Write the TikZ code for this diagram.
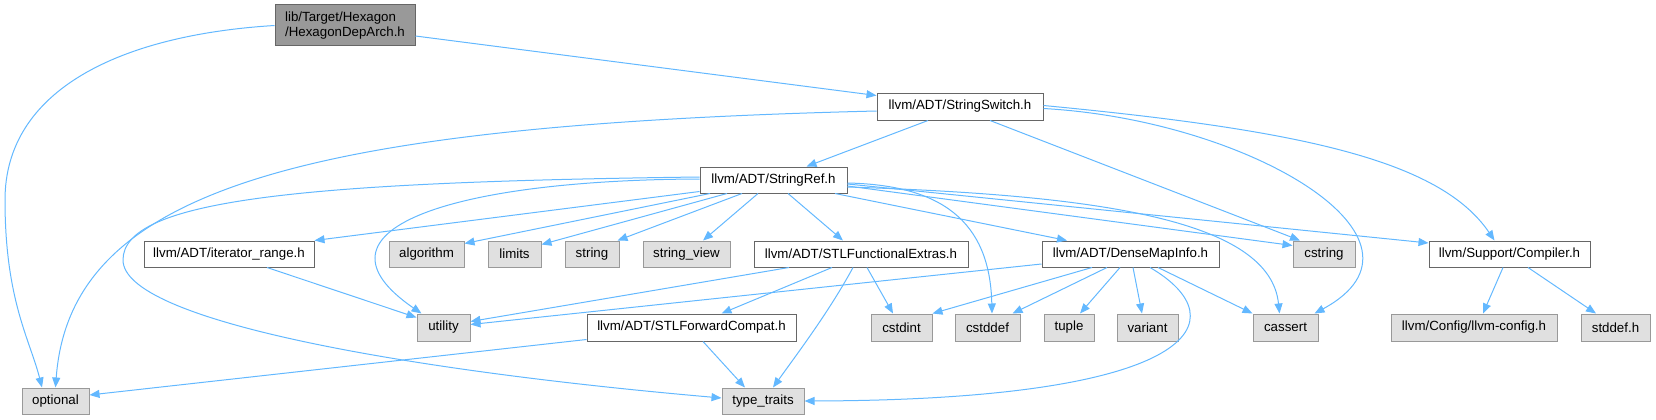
\documentclass[tikz,border=0pt]{standalone}
\usepackage{fontspec}
\setmainfont{Liberation Sans}
\usepackage{tikz}
\usetikzlibrary{positioning,arrows.meta,calc}
\usepackage{xcolor}
\definecolor{edgeblue}{HTML}{63B8FF}
\definecolor{boxgrey}{HTML}{666666}
\definecolor{extgrey}{HTML}{999999}
\definecolor{extfill}{HTML}{E0E0E0}
\definecolor{rootfill}{HTML}{999999}

\begin{document}
\begin{tikzpicture}[
    x=1pt, y=-1pt,
    fileStyle/.style={rectangle, draw=boxgrey, fill=white, line width=1pt, minimum height=26pt, inner sep=0pt, font=\fontsize{13.3}{15.5}\selectfont},
    extStyle/.style={fileStyle, draw=extgrey, fill=extfill},
    rootStyle/.style={fileStyle, fill=rootfill, align=left},
    incArrow/.style={-{Triangle[length=10pt,width=8pt]}, draw=edgeblue, line width=1pt}
]
    \useasboundingbox (0,0) rectangle (1656,420);

    % Root file
    \node[rootStyle, minimum width=140pt, minimum height=41pt] (root) at (345,25.5) {lib/Target/Hexagon\\/HexagonDepArch.h};

    % Direct includes
    \node[fileStyle, minimum width=166pt, minimum height=27pt] (ss) at (960,106.5) {llvm/ADT/StringSwitch.h};
    \node[fileStyle, minimum width=147pt] (sr) at (773.5,180) {llvm/ADT/StringRef.h};

    % Row under StringRef
    \node[fileStyle, minimum width=170pt] (itr) at (229,254) {llvm/ADT/iterator\_range.h};
    \node[extStyle, minimum width=75pt] (algorithm) at (426.5,254) {algorithm};
    \node[extStyle, minimum width=53pt] (limits) at (514.5,254) {limits};
    \node[extStyle, minimum width=54pt] (string) at (592,254) {string};
    \node[extStyle, minimum width=87pt] (strview) at (686.5,254) {string\_view};
    \node[fileStyle, minimum width=214pt] (sfe) at (861,254) {llvm/ADT/STLFunctionalExtras.h};
    \node[fileStyle, minimum width=177pt] (dmi) at (1130.5,254) {llvm/ADT/DenseMapInfo.h};
    \node[extStyle, minimum width=62pt] (cstring) at (1324,254) {cstring};
    \node[fileStyle, minimum width=161pt] (compiler) at (1509.5,254) {llvm/Support/Compiler.h};

    % Lower row
    \node[extStyle, minimum width=53pt, minimum height=27pt] (utility) at (443.5,327.5) {utility};
    \node[fileStyle, minimum width=209pt, minimum height=27pt] (sfc) at (691.5,327.5) {llvm/ADT/STLForwardCompat.h};
    \node[extStyle, minimum width=61pt, minimum height=27pt] (cstdint) at (901.5,327.5) {cstdint};
    \node[extStyle, minimum width=65pt, minimum height=27pt] (cstddef) at (987.5,327.5) {cstddef};
    \node[extStyle, minimum width=50pt, minimum height=27pt] (tuple) at (1069,327.5) {tuple};
    \node[extStyle, minimum width=61pt, minimum height=27pt] (variant) at (1147.5,327.5) {variant};
    \node[extStyle, minimum width=65pt, minimum height=27pt] (cassert) at (1285.5,327.5) {cassert};
    \node[extStyle, minimum width=166pt, minimum height=27pt] (llvmconfig) at (1474,327.5) {llvm/Config/llvm-config.h};
    \node[extStyle, minimum width=69pt, minimum height=27pt] (stddef) at (1615.5,327.5) {stddef.h};

    % Bottom row
    \node[extStyle, minimum width=67pt] (optional) at (55.5,401) {optional};
    \node[extStyle, minimum width=82pt] (typetraits) at (763,401) {type\_traits};

    % Root edges
    \draw[incArrow] (root.west) .. controls (120,35) and (5,90) .. (5,200) .. controls (5,300) and (30,340) .. ([xshift=-13.5pt]optional.north);
    \draw[incArrow] ([yshift=-10.5pt]root.east) -- ([yshift=-3pt]ss.north west);

    % StringSwitch edges
    \draw[incArrow] ([yshift=-4.5pt]ss.west) .. controls (300,125) and (70,190) .. (optional.north);
    \draw[incArrow] ([xshift=-32pt]ss.south) -- ([xshift=33pt]sr.north);
    \draw[incArrow] ([xshift=30pt]ss.south) -- ([xshift=-24pt]cstring.north);
    \draw[incArrow] ([yshift=-2pt]ss.east) .. controls (1250,120) and (1450,240) .. ([xshift=29pt]cassert.north);
    \draw[incArrow] ([yshift=1pt]ss.east) .. controls (1300,130) and (1440,160) .. ([xshift=-15pt]compiler.north);

    % StringRef edges
    \draw[incArrow] ([yshift=3pt]sr.west) .. controls (300,182) and (123,200) .. (123,260) .. controls (123,320) and (400,370) .. ([yshift=3pt]typetraits.west);
    \draw[incArrow] ([yshift=1pt]sr.west) .. controls (450,180) and (300,230) .. ([xshift=-22pt]utility.north);
    \draw[incArrow] ([yshift=2pt]sr.south west) -- (itr.north east);
    \draw[incArrow] ([xshift=-63.5pt]sr.south) -- ([yshift=-3pt]algorithm.north east);
    \draw[incArrow] ([xshift=-46.5pt]sr.south) -- ([yshift=-4pt]limits.north east);
    \draw[incArrow] ([xshift=-31.5pt]sr.south) -- ([xshift=-2pt]string.north east);
    \draw[incArrow] ([xshift=-15.5pt]sr.south) -- ([xshift=16.5pt]strview.north);
    \draw[incArrow] ([xshift=14.5pt]sr.south) -- ([xshift=-18pt]sfe.north);
    \draw[incArrow] ([xshift=61.5pt]sr.south) -- ([xshift=-63.5pt]dmi.north);
    \draw[incArrow] ([yshift=-3pt]sr.east) .. controls (940,185) and (990,220) .. ([xshift=4.5pt]cstddef.north);
    \draw[incArrow] ([yshift=-4pt]sr.east) -- ([yshift=11pt]compiler.west);
    \draw[incArrow] ([yshift=-6pt]sr.east) -- ([yshift=-5pt]cstring.north west);
    \draw[incArrow] ([yshift=-7pt]sr.east) .. controls (1100,195) and (1270,220) .. ([xshift=-6pt]cassert.north);

    % iterator_range
    \draw[incArrow] ([xshift=38pt]itr.south) -- ([yshift=-4pt]utility.north west);

    % STLFunctionalExtras edges
    \draw[incArrow] ([xshift=-72pt]sfe.south) -- ([yshift=6pt]utility.east);
    \draw[incArrow] ([xshift=-29pt]sfe.south) -- ([xshift=30pt]sfc.north);
    \draw[incArrow] ([xshift=-8pt]sfe.south) .. controls (830,310) and (800,350) .. ([xshift=10pt]typetraits.north);
    \draw[incArrow] ([xshift=6pt]sfe.south) -- ([xshift=-8.5pt]cstdint.north);

    % DenseMapInfo edges
    \draw[incArrow] ([yshift=-10pt]dmi.west) -- ([yshift=3pt]utility.east);
    \draw[incArrow] ([xshift=-38.5pt]dmi.south) -- (cstdint.north east);
    \draw[incArrow] ([xshift=-23.5pt]dmi.south) -- ([xshift=25pt]cstddef.north);
    \draw[incArrow] ([xshift=-10.5pt]dmi.south) -- ([xshift=11pt]tuple.north);
    \draw[incArrow] ([xshift=2.5pt]dmi.south) -- ([xshift=-5.5pt]variant.north);
    \draw[incArrow] ([xshift=27.5pt]dmi.south) -- (cassert.north west);
    \draw[incArrow] ([xshift=19.5pt]dmi.south) .. controls (1240,320) and (1200,400) .. (typetraits.east);

    % STLForwardCompat edges
    \draw[incArrow] ([yshift=2pt]sfc.south west) -- ([yshift=6pt]optional.east);
    \draw[incArrow] ([xshift=11.5pt]sfc.south) -- ([xshift=-18pt]typetraits.north);

    % Compiler edges
    \draw[incArrow] ([xshift=-6.5pt]compiler.south) -- ([xshift=9pt]llvmconfig.north);
    \draw[incArrow] ([xshift=18.5pt]compiler.south) -- ([xshift=-19.5pt]stddef.north);
\end{tikzpicture}
\end{document}
